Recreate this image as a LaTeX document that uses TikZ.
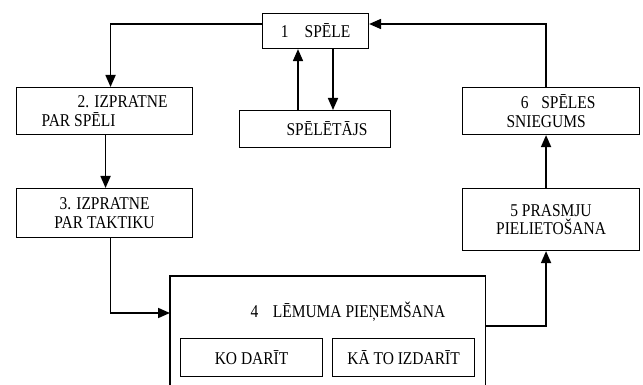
\documentclass[tikz,border=0pt]{standalone}
\usepackage{fontspec}
\setmainfont{Liberation Serif}[FakeStretch=0.86]
\usetikzlibrary{arrows.meta,calc}
\begin{document}
\begin{tikzpicture}[x=1pt,y=-1pt,
  box/.style={draw,line width=1.1pt,inner sep=0pt,anchor=north west},
  flow/.style={line width=1.7pt,-{Triangle[length=12pt,width=10pt]}},
  font=\fontsize{18}{18.5}\selectfont]
\useasboundingbox (0,0) rectangle (643,385);

% boxes
\node[box,minimum width=106pt,minimum height=35pt] (b1) at (262,13) {1\hspace{0.9em}SPĒLE};
\node[box,minimum width=176pt,minimum height=47pt,align=left] (b2) at (16,87)
  {\hspace{2em}2. IZPRATNE\\PAR SPĒLI};
\node[box,minimum width=151pt,minimum height=37pt] (sp) at (239,110) {\hspace{24pt}SPĒLĒTĀJS};
\node[box,minimum width=177pt,minimum height=47pt,align=left] (b6) at (462,87)
  {\hspace{0.8em}6\hspace{0.7em}SPĒLES\\SNIEGUMS};
\node[box,minimum width=176pt,minimum height=49pt,align=center] (b3) at (16,188)
  {3. IZPRATNE\\PAR TAKTIKU};
\node[box,minimum width=177pt,minimum height=62pt,align=center] (b5) at (462,188)
  {5 PRASMJU\\PIELIETOŠANA};

% decision block, open at the bottom
\node[inner sep=0pt,anchor=north west,minimum width=315pt,minimum height=115pt] (b4) at (170,276) {};
\draw[line width=1.1pt] (b4.south west) -- (b4.north west) -- (b4.north east) -- (b4.south east);
\node (t4) at (348,312) {4\hspace{0.8em}LĒMUMA PIEŅEMŠANA};
\node[box,minimum width=142pt,minimum height=38pt] (kd) at (180,338) {KO DARĪT\hspace{24pt}};
\node[box,minimum width=142pt,minimum height=38pt] (kt) at (332,338) {KĀ TO IZDARĪT};

% connectors
\draw[flow] ($(b1.north west)+(0,11)$) -| ($(b2.north)+(6,0)$);
\draw[flow] ($(b2.south)+(1,0)$) -- ($(b3.north)+(1,0)$);
\draw[flow] ($(b3.south)+(6,0)$) |- ($(b4.north west)+(0,37)$);
\draw[flow] ($(b4.north east)+(0,50)$) -| ($(b5.south)+(-5,0)$);
\draw[flow] ($(b5.north)+(-5,0)$) -- ($(b6.south)+(-5,0)$);
\draw[flow] ($(b6.north)+(-5,0)$) |- ($(b1.north east)+(0,11)$);
\draw[flow] ($(sp.north west)+(59,0)$) -- ($(b1.south west)+(36,0)$);
\draw[flow] ($(b1.south west)+(71,0)$) -- ($(sp.north west)+(94,0)$);
\end{tikzpicture}
\end{document}
